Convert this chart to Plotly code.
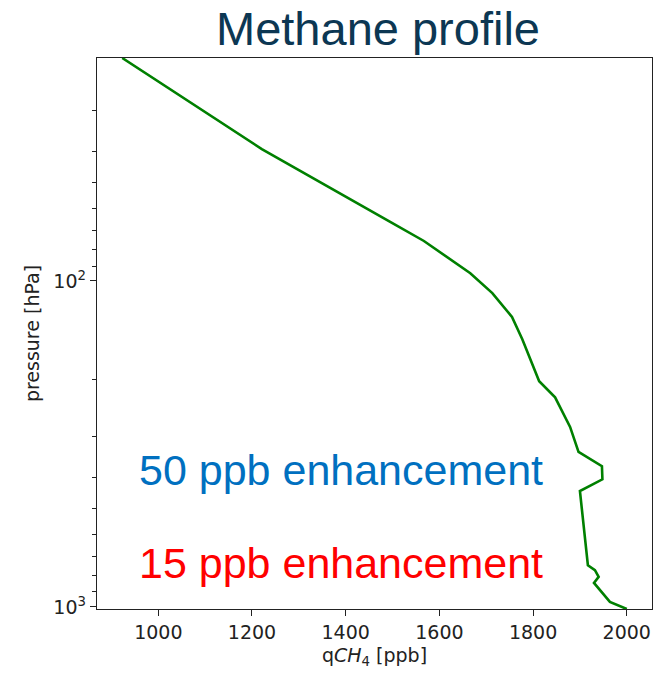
import numpy as np
import plotly.graph_objects as go

# Methane mixing ratio profile (ppb) vs pressure (hPa)
ch4_ppb = [923, 1221, 1495, 1567, 1666, 1713, 1755, 1777, 1813, 1847, 1879,
           1897, 1947, 1948, 1900, 1917, 1932, 1940, 1930, 1964, 2000]
pressure_hpa = [20.7, 39.4, 65.9, 75.4, 94.7, 109, 129, 151, 203, 227.5, 280.5,
                334.6, 370, 406, 441, 745, 771, 809, 844, 965, 1015]

x_ticks = [1000, 1200, 1400, 1600, 1800, 2000]
y_ticks = [100, 1000]
y_ticktext = ["10<sup>2</sup>", "10<sup>3</sup>"]
y_minor = [30, 40, 50, 60, 70, 80, 90, 200, 300, 400, 500, 600, 700, 800, 900]

title_text = "Methane profile"
label_50 = "50 ppb enhancement"
label_15 = "15 ppb enhancement"

W, H = 667, 678
L, R, T, B = 97, 15, 57.5, 69
ph = H - T - B
pw = W - L - R

def py(ypix):
    return (H - B - ypix) / ph

def px(xpix):
    return (xpix - L) / pw

fig = go.Figure()
fig.add_trace(go.Scatter(x=ch4_ppb, y=pressure_hpa, mode="lines",
                         line=dict(color="#008000", width=2.6),
                         showlegend=False, hoverinfo="skip"))

xmin, xmax = min(ch4_ppb), max(ch4_ppb)
pad = 0.05 * (xmax - xmin)

axis_common = dict(showline=True, linecolor="#222222", linewidth=1.4, mirror=True,
                   showgrid=False, zeroline=False, ticks="outside",
                   tickcolor="#222222", tickwidth=1.4, ticklen=6,
                   tickfont=dict(family="DejaVu Sans", size=19, color="#222222"))

fig.update_xaxes(range=[xmin - pad, xmax + pad], tickvals=x_ticks,
                 ticktext=[str(v) for v in x_ticks],
                 title=dict(text="q<i>CH</i><sub>4</sub> [ppb]",
                            font=dict(family="DejaVu Sans", size=19, color="#222222"),
                            standoff=6),
                 **axis_common)
fig.update_yaxes(type="log",
                 range=[np.log10(max(pressure_hpa)), np.log10(min(pressure_hpa))],
                 tickvals=y_ticks, ticktext=y_ticktext,
                 minor=dict(tickvals=y_minor, ticks="outside", ticklen=3.5,
                            tickwidth=1.2, tickcolor="#222222"),
                 title=dict(text="pressure [hPa]",
                            font=dict(family="DejaVu Sans", size=19, color="#222222"),
                            standoff=8),
                 **axis_common)

fig.add_annotation(text=title_text, xref="paper", yref="paper", x=px(378), y=py(28),
                   xanchor="center", yanchor="middle", showarrow=False,
                   font=dict(family="Liberation Sans", size=47, color="#0c3753"))
fig.add_annotation(text=label_50, xref="paper", yref="paper",
                   x=px(341), y=py(470),
                   xanchor="center", yanchor="middle", showarrow=False,
                   font=dict(family="Liberation Sans", size=43, color="#0070c0"))
fig.add_annotation(text=label_15, xref="paper", yref="paper",
                   x=px(341), y=py(563),
                   xanchor="center", yanchor="middle", showarrow=False,
                   font=dict(family="Liberation Sans", size=43, color="#ff0000"))

fig.update_layout(width=W, height=H, margin=dict(l=L, r=R, t=T, b=B),
                  paper_bgcolor="white", plot_bgcolor="white")

fig.write_html("out.html")
